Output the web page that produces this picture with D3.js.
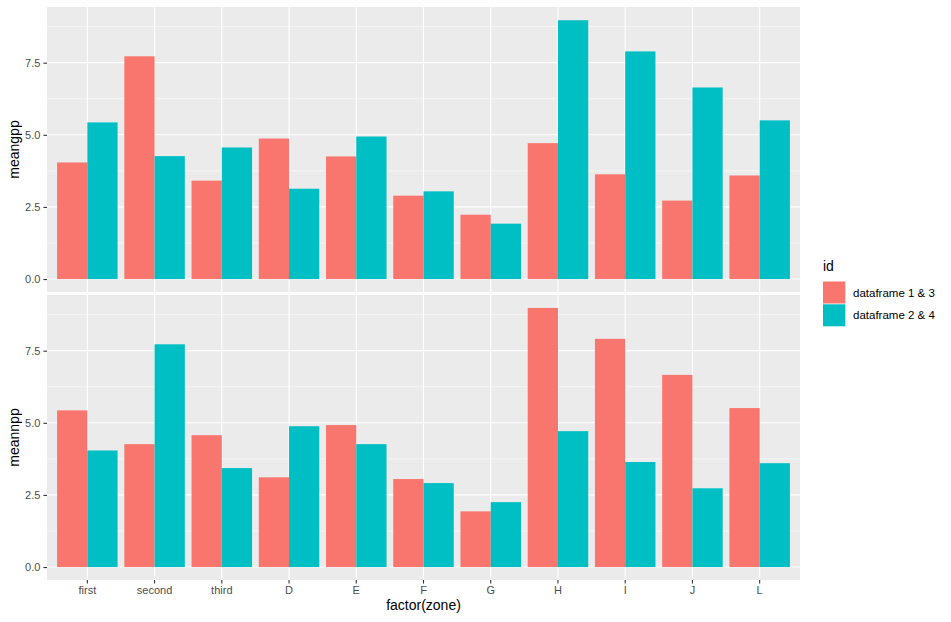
<!DOCTYPE html>
<html lang="en">
<head>
<meta charset="utf-8">
<style>
  body { margin: 0; background: #fff; }
  text { font-family: "Liberation Sans", Arial, sans-serif; }
</style>
</head>
<body>
<svg id="chart" width="951" height="622"></svg>
<script src="https://cdn.jsdelivr.net/npm/d3@7"></script>
<script>
// categories and series
var zones = ["first", "second", "third", "D", "E", "F", "G", "H", "I", "J", "L"];
var ids = ["dataframe 1 & 3", "dataframe 2 & 4"];
var colors = ["#F8766D", "#00BFC4"];

// meangpp (top panel)
var gpp13 = [4.04, 7.72, 3.41, 4.87, 4.25, 2.89, 2.23, 4.71, 3.63, 2.72, 3.59];
var gpp24 = [5.43, 4.26, 4.56, 3.13, 4.94, 3.04, 1.92, 8.97, 7.89, 6.64, 5.50];
// meannpp (bottom panel)
var npp13 = [5.43, 4.26, 4.57, 3.11, 4.92, 3.05, 1.93, 8.98, 7.91, 6.66, 5.51];
var npp24 = [4.04, 7.72, 3.43, 4.88, 4.26, 2.91, 2.25, 4.71, 3.64, 2.73, 3.60];

var yTicks = [0, 2.5, 5, 7.5];
var yMinor = [1.25, 3.75, 6.25, 8.75];

var svg = d3.select("#chart");

var left = 47, right = 800;
var panels = [
  { title: "meangpp", top: 7, bottom: 292, series: [gpp13, gpp24] },
  { title: "meannpp", top: 295, bottom: 580, series: [npp13, npp24] }
];

var maxV = d3.max([].concat(gpp13, gpp24, npp13, npp24));
var pad = maxV * 0.05;

// discrete x with 0.6 expansion each side
var x = d3.scaleLinear().domain([-0.6, zones.length - 1 + 0.6]).range([left, right]);
var bw = x(0.45) - x(0);

panels.forEach(function(p, pi) {
  var y = d3.scaleLinear().domain([-pad, maxV + pad]).range([p.bottom, p.top]);
  var g = svg.append("g");

  g.append("rect")
    .attr("x", left).attr("y", p.top)
    .attr("width", right - left).attr("height", p.bottom - p.top)
    .attr("fill", "#EBEBEB");

  // minor grid
  g.selectAll(".minor").data(yMinor).enter().append("line")
    .attr("x1", left).attr("x2", right)
    .attr("y1", function(d){ return y(d); }).attr("y2", function(d){ return y(d); })
    .attr("stroke", "#fff").attr("stroke-width", 0.55);

  // major grid
  g.selectAll(".major").data(yTicks).enter().append("line")
    .attr("x1", left).attr("x2", right)
    .attr("y1", function(d){ return y(d); }).attr("y2", function(d){ return y(d); })
    .attr("stroke", "#fff").attr("stroke-width", 1.1);

  g.selectAll(".vgrid").data(zones).enter().append("line")
    .attr("x1", function(d, i){ return x(i); }).attr("x2", function(d, i){ return x(i); })
    .attr("y1", p.top).attr("y2", p.bottom)
    .attr("stroke", "#fff").attr("stroke-width", 1.1);

  // bars
  p.series.forEach(function(vals, si) {
    g.selectAll(".bar" + si).data(vals).enter().append("rect")
      .attr("x", function(d, i){ return x(i - 0.45 + si * 0.45); })
      .attr("y", function(d){ return y(d); })
      .attr("width", bw)
      .attr("height", function(d){ return y(0) - y(d); })
      .attr("fill", colors[si]);
  });

  // y axis
  var yAxis = d3.axisLeft(y).tickValues(yTicks).tickFormat(d3.format(".1f"))
    .tickSize(3.6).tickPadding(3);
  var ya = g.append("g").attr("transform", "translate(" + left + ",0)").call(yAxis);
  ya.select(".domain").remove();
  ya.selectAll("line").attr("stroke", "#333").attr("stroke-width", 1.1);
  ya.selectAll("text").attr("fill", "#4D4D4D").attr("font-size", 11)
    .style("font-family", "'Liberation Sans', Arial, sans-serif");

  g.append("text")
    .attr("transform", "translate(19," + ((p.top + p.bottom) / 2) + ") rotate(-90)")
    .attr("text-anchor", "middle")
    .attr("font-size", 14)
    .attr("fill", "#000")
    .text(p.title);

  if (pi === 1) {
    var xb = d3.scaleBand().domain(zones).range([x(-0.5), x(zones.length - 0.5)]);
    var xAxis = d3.axisBottom(xb).tickSize(3.6).tickPadding(3);
    var xa = g.append("g").attr("transform", "translate(0," + p.bottom + ")").call(xAxis);
    xa.select(".domain").remove();
    xa.selectAll("line").attr("stroke", "#333").attr("stroke-width", 1.1);
    xa.selectAll("text").attr("fill", "#4D4D4D").attr("font-size", 11)
      .style("font-family", "'Liberation Sans', Arial, sans-serif");
  }
});

svg.append("text")
  .attr("x", (left + right) / 2).attr("y", 610)
  .attr("text-anchor", "middle")
  .attr("font-size", 14)
  .text("factor(zone)");

// legend
var lg = svg.append("g").attr("transform", "translate(823,0)");
lg.append("text").attr("x", 0).attr("y", 271).attr("font-size", 14).text("id");
var keys = lg.selectAll(".key").data(ids).enter().append("g")
  .attr("transform", function(d, i){ return "translate(0," + (281.5 + i * 22.8) + ")"; });
keys.append("rect")
  .attr("width", 22.3).attr("height", 22)
  .attr("fill", function(d, i){ return colors[i]; });
keys.append("text")
  .attr("x", 30).attr("y", 11).attr("dy", "0.35em")
  .attr("font-size", 11.5)
  .text(function(d){ return d; });
</script>
</body>
</html>
